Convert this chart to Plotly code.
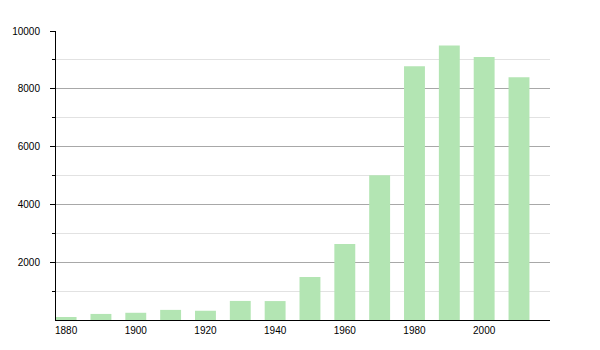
import plotly.graph_objects as go

years = [1880, 1890, 1900, 1910, 1920, 1930, 1940, 1950, 1960, 1970, 1980, 1990, 2000, 2010]
population = [105, 210, 250, 350, 320, 660, 655, 1490, 2630, 5010, 8780, 9500, 9100, 8400]
x_ticks = [1880, 1900, 1920, 1940, 1960, 1980, 2000]
y_ticks = [2000, 4000, 6000, 8000, 10000]
y_minor = [1000, 3000, 5000, 7000, 9000]

fig = go.Figure(go.Bar(
    x=years, y=population, width=6,
    marker=dict(color="#b3e5b3", line=dict(width=0)),
))

fig.update_layout(
    width=600, height=350,
    margin=dict(l=50, r=50, t=31, b=30),
    paper_bgcolor="white", plot_bgcolor="white",
    showlegend=False,
    font=dict(family="Liberation Sans, Arial, sans-serif", size=10, color="#000"),
    xaxis=dict(
        range=[1877.1, 2018.9], tickmode="array", tickvals=x_ticks,
        ticktext=[str(v) for v in x_ticks],
        showgrid=False, zeroline=False, showline=True, linecolor="#000", linewidth=1,
        ticks="", ticklabelstandoff=1,
    ),
    yaxis=dict(
        range=[0, 10000], tickmode="array", tickvals=y_ticks,
        ticktext=[str(v) for v in y_ticks],
        showgrid=True, gridcolor="#a8a8a8", gridwidth=1,
        zeroline=False, showline=True, linecolor="#000", linewidth=1,
        ticks="outside", ticklen=5, tickcolor="#000", ticklabelstandoff=8,
        minor=dict(tickvals=y_minor, ticks="outside", ticklen=3, tickcolor="#000",
                   showgrid=True, gridcolor="#e2e2e2", gridwidth=1),
    ),
)

fig.write_html("out.html")
